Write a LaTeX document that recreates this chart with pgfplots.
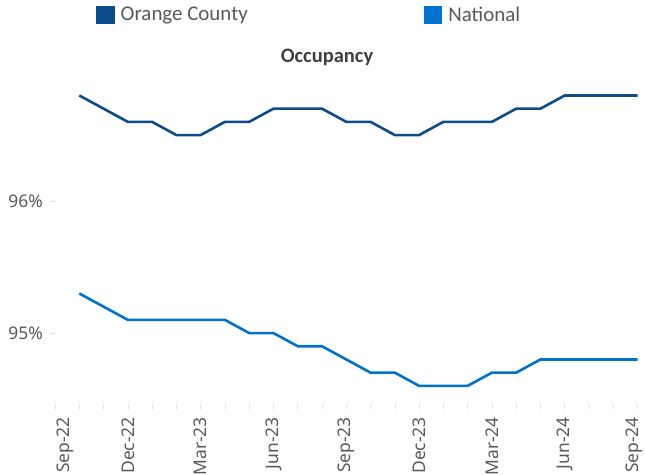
\documentclass[border=0pt]{standalone}
\usepackage{pgfplots}
\pgfplotsset{compat=1.18}
\usepackage{fontspec}
\setmainfont{Carlito}
\newfontfamily\osans{Noto Sans}
\definecolor{ocblue}{RGB}{12,76,138}
\definecolor{natblue}{RGB}{0,114,206}
\definecolor{txtgray}{RGB}{89,89,89}
\definecolor{tickgray}{RGB}{217,217,217}
\begin{document}
\begin{tikzpicture}
\path[use as bounding box] (-55bp,-70bp) rectangle (590bp,405bp);
\begin{axis}[
  at={(0,0)}, anchor=south west,
  scale only axis,
  width=585bp, height=330bp,
  xmin=0, xmax=24.1,
  ymin=94.455, ymax=96.955,
  axis line style={draw=none},
  xtick={0.42,3,6,9,12,15,18,21,23.85},
  minor xtick={0,1,...,24},
  xticklabels={Sep-22,Dec-22,Mar-23,Jun-23,Sep-23,Dec-23,Mar-24,Jun-24,Sep-24},
  major x tick style={draw=none},
  ytick={95,96},
  yticklabels={95\%,96\%},
  tick align=outside,
  tick pos=left,
  major tick length=4bp,
  minor tick length=4bp,
  tick style={draw=tickgray, line width=0.6bp},
  xticklabel shift=8bp,
  yticklabel shift=8bp,
  xticklabel style={rotate=90, anchor=east, font=\fontsize{17.5}{20}\osans, text=txtgray, inner sep=0bp},
  yticklabel style={font=\fontsize{17.5}{20}\osans, text=txtgray, inner sep=0bp},
  clip=false,
  legend columns=2,
  legend style={draw=none, fill=none, at={(0.070,1.182)}, anchor=west,
    font=\fontsize{21}{24}\selectfont, text=txtgray, inner sep=0pt,
    /tikz/every odd column/.append style={column sep=4bp},
    /tikz/every even column/.append style={column sep=174bp}},
  legend image code/.code={\fill[#1] (0bp,-8bp) rectangle (16bp,8bp);},
  legend cell align=left,
]
\addplot[color=ocblue, line width=2.6bp] coordinates {
(1,96.8) (2,96.7) (3,96.6) (4,96.6) (5,96.5) (6,96.5) (7,96.6) (8,96.6)
(9,96.7) (10,96.7) (11,96.7) (12,96.6) (13,96.6) (14,96.5) (15,96.5) (16,96.6)
(17,96.6) (18,96.6) (19,96.7) (20,96.7) (21,96.8) (22,96.8) (23,96.8) (24,96.8)
};
\addlegendentry{Orange County}
\addplot[color=natblue, line width=2.6bp] coordinates {
(1,95.3) (2,95.2) (3,95.1) (4,95.1) (5,95.1) (6,95.1) (7,95.1) (8,95.0)
(9,95.0) (10,94.9) (11,94.9) (12,94.8) (13,94.7) (14,94.7) (15,94.6) (16,94.6)
(17,94.6) (18,94.7) (19,94.7) (20,94.8) (21,94.8) (22,94.8) (23,94.8) (24,94.8)
};
\addlegendentry{National}
\node[font=\fontsize{20.6}{24}\selectfont\bfseries, text={rgb,255:red,64;green,64;blue,64}] at (axis description cs:0.465,1.052) {Occupancy};
\end{axis}
\end{tikzpicture}
\end{document}
